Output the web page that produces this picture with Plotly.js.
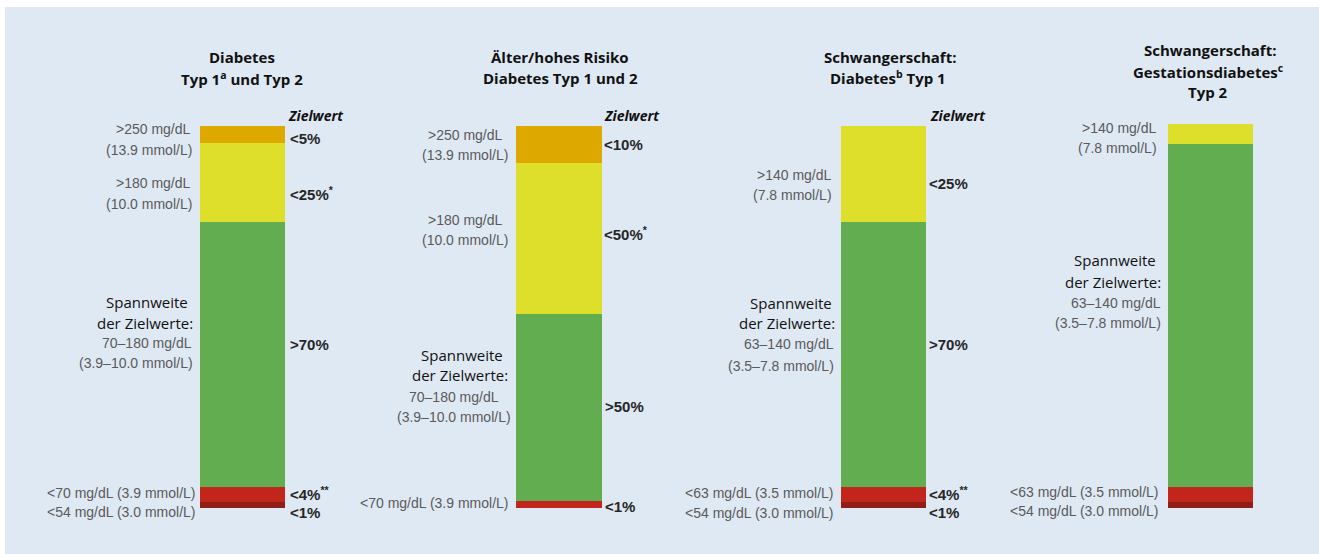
<!DOCTYPE html>
<html>
<head>
<meta charset="utf-8">
<script src="https://cdn.plot.ly/plotly-3.0.1.min.js"></script>
<style>
  html, body { margin: 0; padding: 0; background: #ffffff; }
  #chart { width: 1319px; height: 554px; }
</style>
</head>
<body>
<div id="chart"></div>
<script>
// ---- data (segment heights as drawn, % of bar) ----
const categories = ['Diabetes Typ 1 und Typ 2', 'Älter/hohes Risiko', 'Schwangerschaft: Typ 1', 'Schwangerschaft: Gestationsdiabetes/Typ 2'];
const segmentNames = ['<54 mg/dL', '<70 mg/dL', 'Zielbereich', '>180 mg/dL', '>250 mg/dL'];
const veryLow  = [1.6, 0,    1.6,  1.6];
const low      = [3.9, 1.8,  3.9,  3.9];
const inRange  = [69.4, 49.0, 69.4, 89.8];
const high     = [20.7, 39.5, 25.1, 5.2];
const veryHigh = [4.5, 9.7,  0,    0];
const segmentColors = ['#8E1E16', '#C2251C', '#62AD50', '#DEDF2A', '#DDA800'];

const titles = [
  ['Diabetes', 'Typ 1<sup>a</sup> und Typ 2'],
  ['Älter/hohes Risiko', 'Diabetes Typ 1 und 2'],
  ['Schwangerschaft:', 'Diabetes<sup>b</sup> Typ 1'],
  ['Schwangerschaft:', 'Gestationsdiabetes<sup>c</sup>', 'Typ 2']
];
const targetLabel = 'Zielwert';

// ---- layout helpers ----
const W = 1319, H = 554;
const centers = [242.5, 558.5, 883.5, 1210.5];
const half = 100;
const barPx = [85, 86, 85, 85];
const y0px = 508, unitPx = 3.82;

const series = [veryLow, low, inRange, high, veryHigh];
const traces = [];
series.forEach((vals, s) => {
  vals.forEach((v, i) => {
    if (!v) return;
    traces.push({
      type: 'bar',
      name: segmentNames[s],
      x: [categories[i]],
      y: [v],
      xaxis: i === 0 ? 'x' : 'x' + (i + 1),
      yaxis: 'y',
      width: barPx[i] / (2 * half),
      marker: { color: segmentColors[s], line: { width: 0 } },
      hoverinfo: 'skip',
      showlegend: false
    });
  });
});

const ann = [];
const PX = x => x / W, PY = y => 1 - y / H;
function lab(text, x, y, xanchor, font) {
  ann.push({ text, x: PX(x), y: PY(y), xref: 'paper', yref: 'paper',
    xanchor, yanchor: 'middle', showarrow: false, font, borderpad: 0 });
}
const fTitle = { family: 'Open Sans, sans-serif', size: 15, color: '#111', weight: 700 };
const fZiel = { family: 'Open Sans, sans-serif', size: 14, color: '#111', weight: 700, style: 'italic' };
const fPct = { family: 'Liberation Sans, Arial, sans-serif', size: 15, color: '#262626', weight: 700 };
const fGray = { family: 'Liberation Sans, Arial, sans-serif', size: 14, color: '#5a5a5a' };
const fBlack = { family: 'Open Sans, sans-serif', size: 15, color: '#111' };

// Panel 1
lab(titles[0][0], 242, 57, 'center', fTitle);
lab(titles[0][1], 242, 78, 'center', fTitle);
lab(targetLabel, 287, 116, 'left', fZiel);
lab('<5%', 289, 138, 'left', fPct);
lab('<25%<sup>*</sup>', 289, 193, 'left', fPct);
lab('>70%', 289, 344, 'left', fPct);
lab('<4%<sup>**</sup>', 289, 493, 'left', fPct);
lab('<1%', 289, 512, 'left', fPct);
lab('>250 mg/dL', 192, 129, 'right', fGray);
lab('(13.9 mmol/L)', 193, 150, 'right', fGray);
lab('>180 mg/dL', 192, 183, 'right', fGray);
lab('(10.0 mmol/L)', 193, 204, 'right', fGray);
lab('Spannweite', 189, 302, 'right', fBlack);
lab('der Zielwerte:', 194, 323, 'right', fBlack);
lab('70–180 mg/dL', 193, 343, 'right', fGray);
lab('(3.9–10.0 mmol/L)', 194, 363, 'right', fGray);
lab('<70 mg/dL (3.9 mmol/L)', 197, 493, 'right', fGray);
lab('<54 mg/dL (3.0 mmol/L)', 197, 512, 'right', fGray);

// Panel 2
lab(titles[1][0], 560, 56.5, 'center', fTitle);
lab(titles[1][1], 560, 77.5, 'center', fTitle);
lab(targetLabel, 603, 115, 'left', fZiel);
lab('<10%', 603, 145, 'left', fPct);
lab('<50%<sup>*</sup>', 603, 233, 'left', fPct);
lab('>50%', 604, 406, 'left', fPct);
lab('<1%', 604, 506, 'left', fPct);
lab('>250 mg/dL', 465, 135, 'center', fGray);
lab('(13.9 mmol/L)', 465, 155, 'center', fGray);
lab('>180 mg/dL', 465, 220, 'center', fGray);
lab('(10.0 mmol/L)', 465, 240, 'center', fGray);
lab('Spannweite', 462, 355, 'center', fBlack);
lab('der Zielwerte:', 460, 375, 'center', fBlack);
lab('70–180 mg/dL', 454, 397, 'center', fGray);
lab('(3.9–10.0 mmol/L)', 454, 417, 'center', fGray);
lab('<70 mg/dL (3.9 mmol/L)', 510, 503, 'right', fGray);

// Panel 3
lab(titles[2][0], 890, 56.5, 'center', fTitle);
lab(titles[2][1], 888, 77.5, 'center', fTitle);
lab(targetLabel, 929, 115, 'left', fZiel);
lab('<25%', 928, 183, 'left', fPct);
lab('>70%', 928, 344, 'left', fPct);
lab('<4%<sup>**</sup>', 928, 493, 'left', fPct);
lab('<1%', 928, 512, 'left', fPct);
lab('>140 mg/dL', 833, 175, 'right', fGray);
lab('(7.8 mmol/L)', 833, 195, 'right', fGray);
lab('Spannweite', 833, 303, 'right', fBlack);
lab('der Zielwerte:', 836, 323, 'right', fBlack);
lab('63–140 mg/dL', 835, 344, 'right', fGray);
lab('(3.5–7.8 mmol/L)', 835, 366, 'right', fGray);
lab('<63 mg/dL (3.5 mmol/L)', 835, 493, 'right', fGray);
lab('<54 mg/dL (3.0 mmol/L)', 835, 513, 'right', fGray);

// Panel 4
lab(titles[3][0], 1210, 50, 'center', fTitle);
lab(titles[3][1], 1208, 71, 'center', fTitle);
lab(titles[3][2], 1208, 92, 'center', fTitle);
lab('>140 mg/dL', 1158, 128, 'right', fGray);
lab('(7.8 mmol/L)', 1158, 148, 'right', fGray);
lab('Spannweite', 1157, 260, 'right', fBlack);
lab('der Zielwerte:', 1162, 282, 'right', fBlack);
lab('63–140 mg/dL', 1162, 303, 'right', fGray);
lab('(3.5–7.8 mmol/L)', 1162, 323, 'right', fGray);
lab('<63 mg/dL (3.5 mmol/L)', 1160, 492, 'right', fGray);
lab('<54 mg/dL (3.0 mmol/L)', 1160, 511, 'right', fGray);

const layout = {
  width: W, height: H,
  margin: { l: 0, r: 0, t: 0, b: 0, pad: 0 },
  paper_bgcolor: '#DFE9F4',
  plot_bgcolor: 'rgba(0,0,0,0)',
  barmode: 'stack',
  showlegend: false,
  yaxis: { range: [(y0px - H) / unitPx, y0px / unitPx], visible: false, fixedrange: true },
  annotations: ann,
  shapes: [
    { type: 'rect', xref: 'paper', yref: 'paper', x0: 0, x1: 1, y0: 1 - 7 / H, y1: 1, fillcolor: '#ffffff', line: { width: 0 }, layer: 'below' },
    { type: 'rect', xref: 'paper', yref: 'paper', x0: 0, x1: 5 / W, y0: 0, y1: 1, fillcolor: '#ffffff', line: { width: 0 }, layer: 'below' }
  ]
};
centers.forEach((c, i) => {
  const key = i === 0 ? 'xaxis' : 'xaxis' + (i + 1);
  layout[key] = { domain: [(c - half) / W, (c + half) / W], range: [-0.5, 0.5], type: 'category',
    visible: false, fixedrange: true, anchor: 'y' };
});

Plotly.newPlot('chart', traces, layout, { staticPlot: true, displayModeBar: false });
</script>
</body>
</html>
